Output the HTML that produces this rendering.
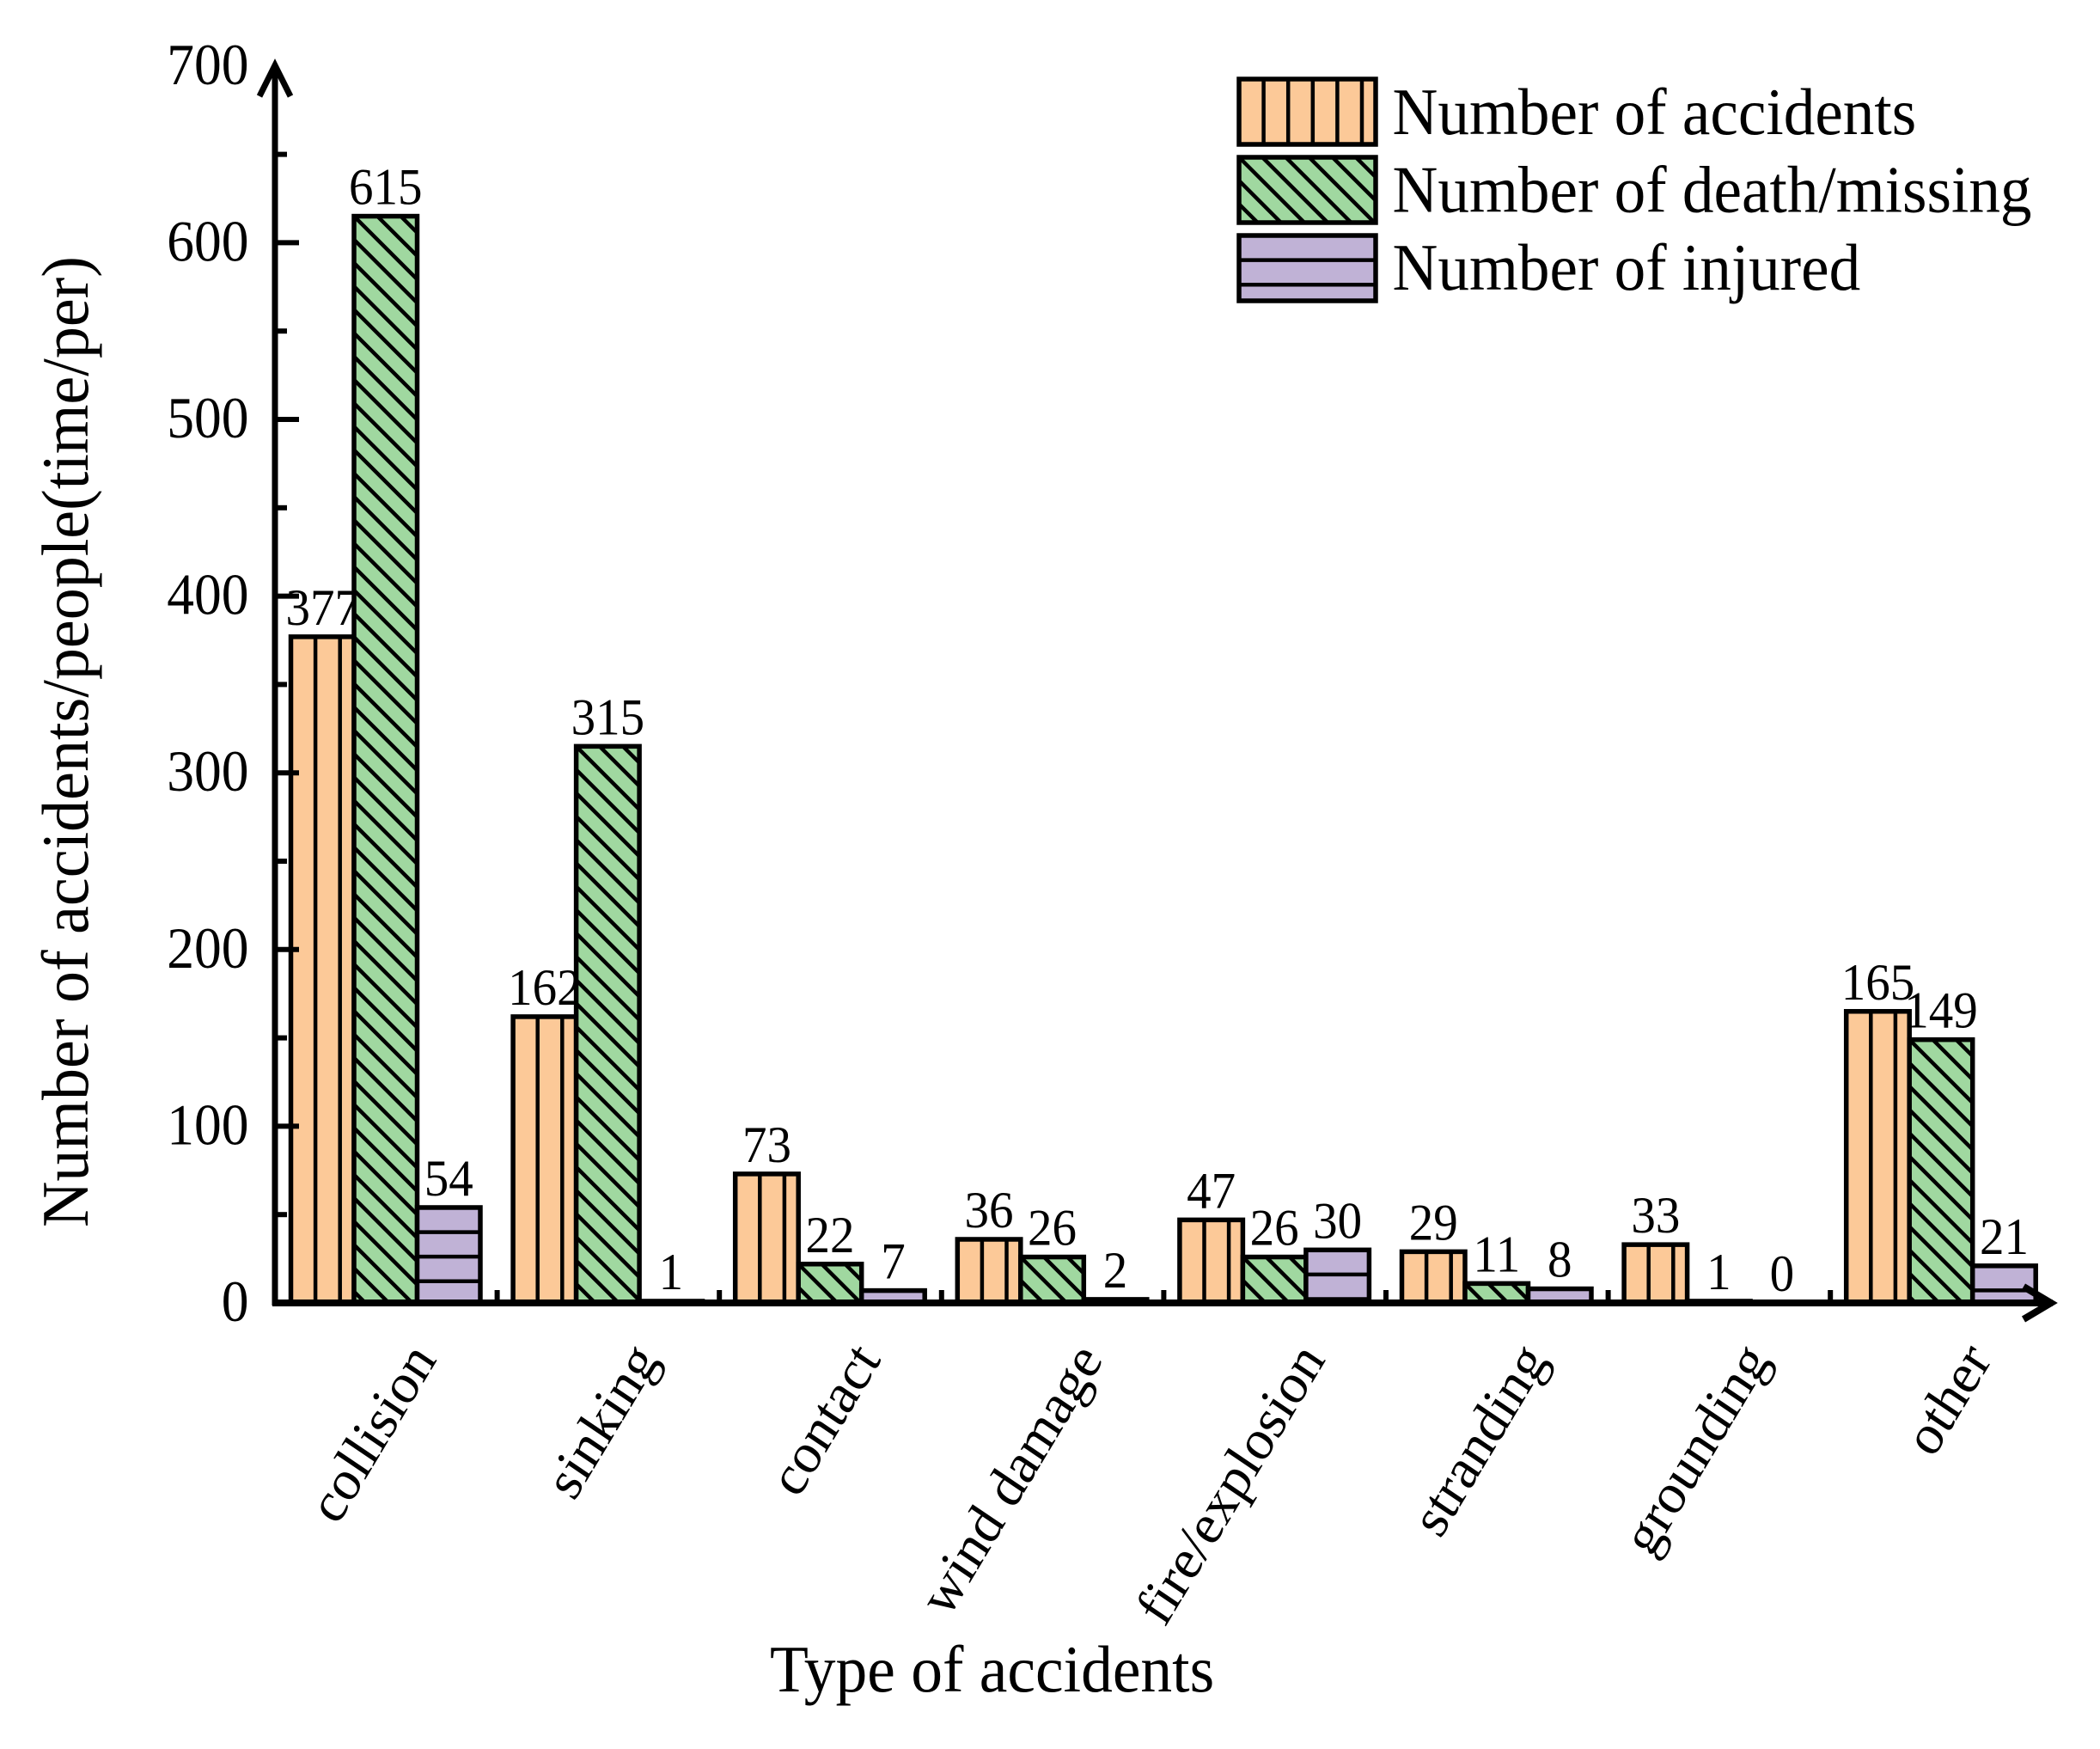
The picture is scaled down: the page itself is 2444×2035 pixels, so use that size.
<!DOCTYPE html>
<html lang="en">
<head>
<meta charset="utf-8">
<title>Type of accidents chart</title>
<style>
html,body{margin:0;padding:0;background:#fff;width:2444px;height:2035px;overflow:hidden}
svg{display:block}
text{font-family:"Liberation Serif",serif;fill:#000}
</style>
</head>
<body>
<svg id="chart" xmlns="http://www.w3.org/2000/svg" width="2444" height="2035" viewBox="0 0 2444 2035">
<rect x="0" y="0" width="2444" height="2035" fill="#fff"/>
</svg>
<script>
const categories = ['collision','sinking','contact','wind damage','fire/explosion','stranding','grounding','other'];
const accidents = [377,162,73,36,47,29,33,165];
const deaths = [615,315,22,26,26,11,1,149];
const injured = [54,1,7,2,30,8,0,21];
const yMajorTicks = [0,100,200,300,400,500,600,700];
const yMinorTicks = [50,150,250,350,450,550,650];
const seriesNames = ['Number of accidents','Number of death/missing','Number of injured'];

const NS = 'http://www.w3.org/2000/svg';
const svg = document.getElementById('chart');
const X0 = 320, BAND = 258.6, BASE = 1516, PER = 2.056, BAR = 73.5, PAD = 18.5;
const K = 1.06;
const colors = ['#fcc998','#a0d8a0','#c0b2d6'];
let clipId = 0;

function xBand(i){ return X0 + BAND * i; }
function yVal(v){ return BASE - v * PER; }
function xBar(i,s){ return xBand(i) + PAD + s * BAR; }

function el(tag, attrs, parent){
  const e = document.createElementNS(NS, tag);
  for (const k in attrs) e.setAttribute(k, attrs[k]);
  (parent || svg).appendChild(e);
  return e;
}
function txt(str, x, y, size, anchor, transformExtra, parent){
  const e = el('text', {
    transform: 'translate(' + x + ' ' + y + ') ' + (transformExtra || 'scale(1 ' + K + ')'),
    'font-size': size, 'text-anchor': anchor
  }, parent);
  e.textContent = str;
  return e;
}
function hatch(group, s, x, y, w, h){
  const id = 'clip' + (clipId++);
  const cp = el('clipPath', {id: id}, group);
  el('rect', {x: x, y: y, width: w, height: h}, cp);
  const hg = el('g', {'clip-path': 'url(#' + id + ')', stroke: '#000', 'stroke-width': 4.5, fill: 'none'}, group);
  if (s === 0) {
    for (let px = x + 28.6; px < x + w; px += 28.6) el('line', {x1: px, y1: y, x2: px, y2: y + h}, hg);
  } else if (s === 1) {
    for (let off = -h - 27; off < w; off += 27.2) {
      const n = Math.round(off / 27.2) * 27.2;
      el('line', {x1: x + n, y1: y, x2: x + n + h + 10, y2: y + h + 10}, hg);
    }
  } else {
    for (let py = y + 28.6; py < y + h; py += 28.6) el('line', {x1: x, y1: py, x2: x + w, y2: py}, hg);
  }
}

const seriesData = [accidents, deaths, injured];
const seriesKeys = ['accidents','deaths','injured'];

/* value labels (drawn first: neighbouring bars overlap them) */
const labelLayer = el('g', {});


seriesData.forEach(function(arr, s){
  arr.forEach(function(v, i){
    const t = txt(String(v), xBar(i, s) + BAR / 2, yVal(v) - 14, 57, 'middle', null, labelLayer);
    
    
  });
});

/* bars */
seriesData.forEach(function(arr, s){
  const sg = el('g', {});
  
  
  arr.forEach(function(v, i){
    const g = el('g', {}, sg);
    
    
    const x = xBar(i, s), y = yVal(v), h = BASE - y;
    el('rect', {x: x, y: y, width: BAR, height: h, fill: colors[s]}, g);
    hatch(g, s, x, y, BAR, h);
    el('rect', {x: x, y: y, width: BAR, height: h, fill: 'none', stroke: '#000', 'stroke-width': 5.5}, g);
  });
});

/* axes */
const axes = el('g', {stroke: '#000', fill: 'none'});



const yAxis = el('line', {x1: X0, y1: yVal(700), x2: X0, y2: BASE + 3, 'stroke-width': 7}, axes);



const xAxis = el('line', {x1: X0 - 3, y1: BASE, x2: xBand(8), y2: BASE, 'stroke-width': 8}, axes);



const yArrow = el('path', {d: 'M302 112 L' + X0 + ' 76 L338 112', 'stroke-width': 7}, axes);



const xArrow = el('path', {d: 'M2355 1497 L2387 1516 L2355 1535', 'stroke-width': 8}, axes);



yMajorTicks.forEach(function(v){
  if (v > 0 && v < 700) {
    const t = el('line', {x1: X0, y1: yVal(v), x2: 348, y2: yVal(v), 'stroke-width': 6}, axes);
    
    
  }
  const lab = txt(String(v), 289.5, yVal(v) + 21, 63.5, 'end');
  
  
});
yMinorTicks.forEach(function(v){
  const t = el('line', {x1: X0, y1: yVal(v), x2: 334, y2: yVal(v), 'stroke-width': 6}, axes);
  
  
});
categories.forEach(function(c, i){
  if (i > 0) {
    const t = el('line', {x1: xBand(i), y1: BASE, x2: xBand(i), y2: 1501, 'stroke-width': 6}, axes);
    
    
  }
  const lab = txt(c, xBand(i) + 129 + 60, 1582, 63, 'end', 'scale(1 ' + K + ') rotate(-57.5)');
  
  
});

/* axis titles */
const yTitle = txt('Number of accidents/people(time/per)', 102, 1428, 74, 'start', 'rotate(-90) scale(1 1.04)');



const xTitle = txt('Type of accidents', 896, 1968, 73.5, 'start', 'scale(1 1.05)');



/* legend */
const legend = el('g', {});


seriesNames.forEach(function(name, s){
  const g = el('g', {}, legend);
  
  
  const x = 1442, w = 159, h = 76, y = 92 + s * 91;
  const sw = el('g', {}, g);
  
  
  el('rect', {x: x, y: y, width: w, height: h, fill: colors[s]}, sw);
  hatch(sw, s, x, y, w, h);
  el('rect', {x: x, y: y, width: w, height: h, fill: 'none', stroke: '#000', 'stroke-width': 5.5}, sw);
  const t = txt(name, 1620.5, 156 + s * 90.5, 73.2, 'start', 'scale(1 1.05)', g);
  
  
});
</script>
</body>
</html>
